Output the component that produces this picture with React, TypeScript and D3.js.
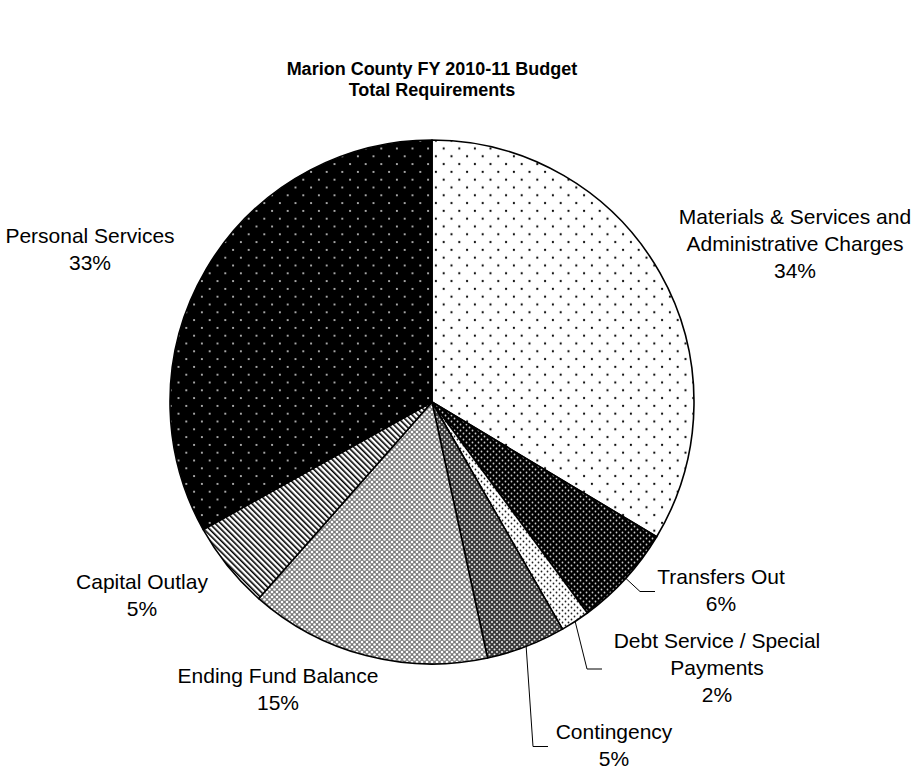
import * as d3 from "d3"

// budget shares, percent of total requirements (clockwise from 12 o'clock)
const categories = [
  "Materials & Services and|Administrative Charges",
  "Transfers Out",
  "Debt Service / Special|Payments",
  "Contingency",
  "Ending Fund Balance",
  "Capital Outlay",
  "Personal Services",
]
const values = [33.6, 6.3, 1.8, 4.9, 14.9, 5.4, 33.1]
const patternIds = ["matDots", "transDots", "debtDots", "contHatch", "endHatch", "capStripes", "persDots"]

const titleLines = ["Marion County FY 2010-11 Budget", "Total Requirements"]

// label placement: center x, first line y, and left edge for leader lines
const labelLayout = [
  { x: 795, y: 218, leader: false, left: 0 },
  { x: 721, y: 578, leader: true, left: 660 },
  { x: 717, y: 642, leader: true, left: 607 },
  { x: 614, y: 733, leader: true, left: 553 },
  { x: 278, y: 677, leader: false, left: 0 },
  { x: 142, y: 583, leader: false, left: 0 },
  { x: 90, y: 237, leader: false, left: 0 },
]

const W = 924
const H = 772
const cx = 432
const cy = 402
const radius = 262
const lineH = 27
const font = "'Liberation Sans', Arial, sans-serif"

const App = () => {
  const total = d3.sum(values)
  const pie = d3.pie<number>().sort(null).value(d => d).startAngle(0).endAngle(2 * Math.PI)
  const arcs = pie(values)
  const arc = d3.arc<d3.PieArcDatum<number>>().innerRadius(0).outerRadius(radius)
  const edge = d3.arc<d3.PieArcDatum<number>>().innerRadius(radius).outerRadius(radius)

  return (
    <svg width={W} height={H} style={{ position: "absolute", left: 0, top: 0 }}>
      <defs>
        <pattern id="matDots" width={15.6} height={15.6} patternUnits="userSpaceOnUse">
          <rect width={15.6} height={15.6} fill="#fff" />
          <circle cx={3.9} cy={3.9} r={1.1} fill="#000" />
          <circle cx={11.7} cy={11.7} r={1.1} fill="#000" />
        </pattern>
        <pattern id="persDots" width={15.6} height={15.6} patternUnits="userSpaceOnUse">
          <rect width={15.6} height={15.6} fill="#000" />
          <circle cx={3.9} cy={3.9} r={1} fill="#ddd" />
          <circle cx={11.7} cy={11.7} r={1} fill="#ddd" />
        </pattern>
        <pattern id="transDots" width={6} height={6} patternUnits="userSpaceOnUse">
          <rect width={6} height={6} fill="#000" />
          <circle cx={1.5} cy={1.5} r={0.9} fill="#ccc" />
          <circle cx={4.5} cy={4.5} r={0.9} fill="#ccc" />
        </pattern>
        <pattern id="debtDots" width={6} height={6} patternUnits="userSpaceOnUse">
          <rect width={6} height={6} fill="#fff" />
          <circle cx={1.5} cy={1.5} r={0.9} fill="#222" />
          <circle cx={4.5} cy={4.5} r={0.9} fill="#222" />
        </pattern>
        <pattern id="contHatch" width={5} height={5} patternUnits="userSpaceOnUse">
          <rect width={5} height={5} fill="#3a3a3a" />
          <circle cx={0} cy={0} r={1} fill="#eee" />
          <circle cx={5} cy={0} r={1} fill="#eee" />
          <circle cx={0} cy={5} r={1} fill="#eee" />
          <circle cx={5} cy={5} r={1} fill="#eee" />
          <circle cx={2.5} cy={2.5} r={1} fill="#eee" />
        </pattern>
        <pattern id="endHatch" width={5} height={5} patternUnits="userSpaceOnUse">
          <rect width={5} height={5} fill="#7a7a7a" />
          <circle cx={0} cy={0} r={1.3} fill="#fff" />
          <circle cx={5} cy={0} r={1.3} fill="#fff" />
          <circle cx={0} cy={5} r={1.3} fill="#fff" />
          <circle cx={5} cy={5} r={1.3} fill="#fff" />
          <circle cx={2.5} cy={2.5} r={1.3} fill="#fff" />
        </pattern>
        <pattern id="capStripes" width={4} height={4} patternUnits="userSpaceOnUse" patternTransform="rotate(-45)">
          <rect width={4} height={4} fill="#fff" />
          <rect width={1.6} height={4} fill="#000" />
        </pattern>
      </defs>

      <g fontFamily={font} fontWeight="bold" fontSize={18} textAnchor="middle" fill="#000">
        {titleLines.map((t, i) => (
          <text key={t} x={cx} y={70 + i * 21} dominantBaseline="middle">{t}</text>
        ))}
      </g>

      <g transform={`translate(${cx},${cy})`}>
        {arcs.map((a, i) => (
          <path key={i} d={arc(a) as string} fill={`url(#${patternIds[i]})`} stroke="#000" strokeWidth={1.6} strokeLinejoin="round" />
        ))}
      </g>

      {arcs.map((a, i) => {
        const lay = labelLayout[i]
        if (!lay.leader) return null
        const [sx, sy] = edge.centroid(a)
        const nLines = categories[i].split("|").length + 1
        const midY = lay.y + ((nLines - 1) * lineH) / 2
        const pts: [number, number][] = [
          [cx + sx, cy + sy],
          [lay.left - 20, midY],
          [lay.left - 5, midY],
        ]
        return <path key={"l" + i} d={d3.line()(pts) as string} fill="none" stroke="#000" strokeWidth={1} />
      })}

      <g fontFamily={font} fontSize={21} textAnchor="middle" fill="#000">
        {categories.map((c, i) => {
          const lines = c.split("|").concat([Math.round((values[i] / total) * 100) + "%"])
          const lay = labelLayout[i]
          return lines.map((t, j) => (
            <text key={i + "-" + j} x={lay.x} y={lay.y + j * lineH} dominantBaseline="middle">{t}</text>
          ))
        })}
      </g>
    </svg>
  )
}

export default App
